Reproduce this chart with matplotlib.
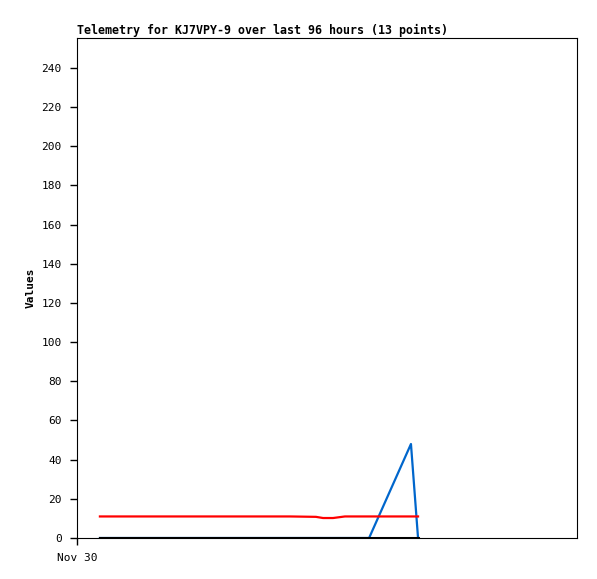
import matplotlib
matplotlib.use("Agg")
import matplotlib.pyplot as plt

# time in hours after Nov 30 00:00
hours = [1.10, 2.54, 4.46, 6.38, 8.30, 10.22, 11.47, 11.81, 12.29, 12.86, 14.02, 16.03, 16.37]
red_vals = [11, 11, 11, 11, 11, 11, 10.8, 10.2, 10.2, 11, 11, 11, 11]
blue_vals = [0, 0, 0, 0, 0, 0, 0, 0, 0, 0, 0, 48, 0]
black_vals = [0] * 13
xtick_pos = [0]
xtick_labels = ["Nov 30"]
yticks = list(range(0, 241, 20))

plt.rcParams['font.family'] = ['DejaVu Sans Mono']
fig = plt.figure(figsize=(5.97, 5.79), dpi=100)
ax = fig.add_axes([77/597, 41/579, 500/597, 500/579])

ax.plot(hours, blue_vals, color='#0066cc', lw=1.6, zorder=2)
ax.plot(hours, red_vals, color='#ff0000', lw=1.6, zorder=3)
ax.plot(hours, black_vals, color='#000000', lw=2.2, zorder=4)

ax.set_xlim(0, 24)
ax.set_ylim(0, 255.3)
ax.set_yticks(yticks)
ax.set_xticks(xtick_pos)
ax.set_xticklabels(xtick_labels)
ax.tick_params(axis='both', direction='out', length=5, width=1, labelsize=8, colors='black')
ax.tick_params(axis='x', pad=6)
ax.tick_params(axis='y', pad=6)
for s in ax.spines.values():
    s.set_linewidth(0.8)
    s.set_color('black')

ax.set_ylabel("Values", fontsize=8, fontweight='bold', labelpad=4)
ax.set_title("Telemetry for KJ7VPY-9 over last 96 hours (13 points)", fontsize=8.4,
             fontweight='bold', loc='left', pad=3)

fig.savefig("out.png", dpi=100)
